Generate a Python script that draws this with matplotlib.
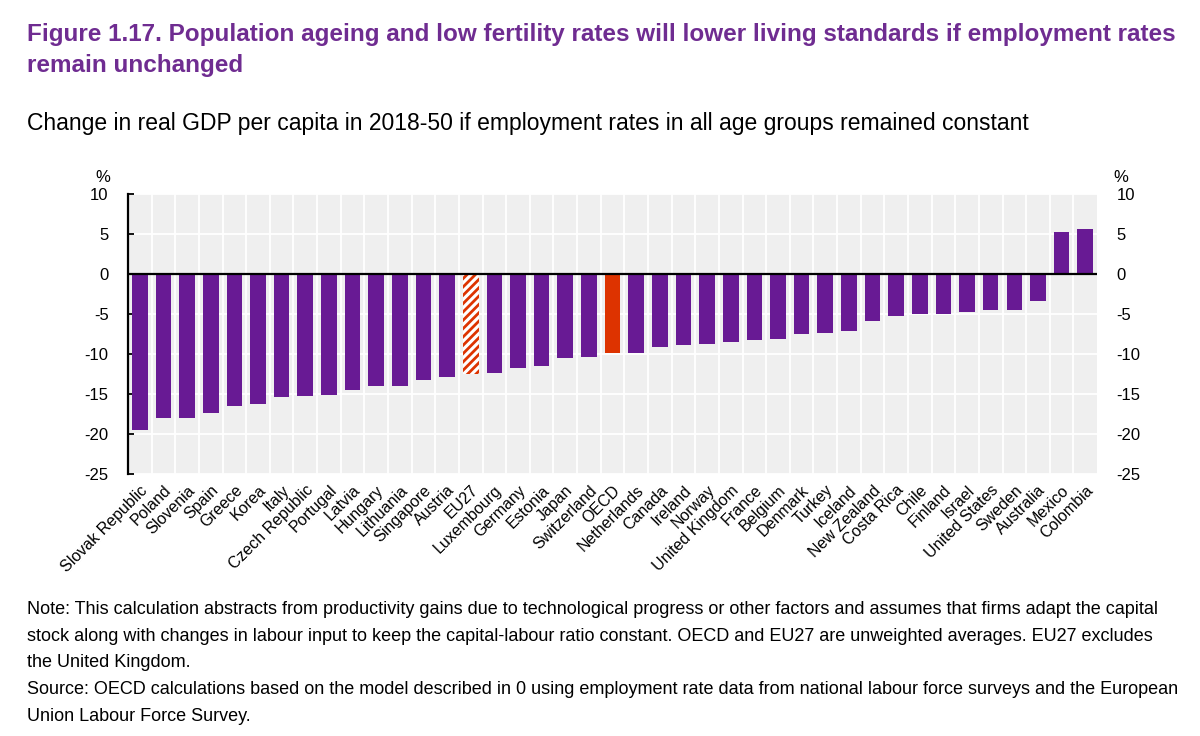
import matplotlib
matplotlib.use("Agg")
import matplotlib.pyplot as plt
import numpy as np

countries = ["Slovak Republic", "Poland", "Slovenia", "Spain", "Greece", "Korea", "Italy",
             "Czech Republic", "Portugal", "Latvia", "Hungary", "Lithuania", "Singapore",
             "Austria", "EU27", "Luxembourg", "Germany", "Estonia", "Japan", "Switzerland",
             "OECD", "Netherlands", "Canada", "Ireland", "Norway", "United Kingdom", "France",
             "Belgium", "Denmark", "Turkey", "Iceland", "New Zealand", "Costa Rica", "Chile",
             "Finland", "Israel", "United States", "Sweden", "Australia", "Mexico", "Colombia"]
values = [-19.5, -18.0, -17.95, -17.3, -16.5, -16.2, -15.4,
          -15.25, -15.1, -14.5, -14.0, -14.0, -13.25,
          -12.9, -12.5, -12.4, -11.7, -11.5, -10.5, -10.4,
          -9.9, -9.8, -9.1, -8.8, -8.7, -8.5, -8.2,
          -8.1, -7.5, -7.3, -7.1, -5.8, -5.25, -5.0,
          -5.0, -4.7, -4.5, -4.5, -3.3, 5.3, 5.7]
yticks = [10, 5, 0, -5, -10, -15, -20, -25]

title = ("Figure 1.17. Population ageing and low fertility rates will lower living standards if employment rates\n"
         "remain unchanged")
subtitle = "Change in real GDP per capita in 2018-50 if employment rates in all age groups remained constant"
note = ("Note: This calculation abstracts from productivity gains due to technological progress or other factors and assumes that firms adapt the capital\n"
        "stock along with changes in labour input to keep the capital-labour ratio constant. OECD and EU27 are unweighted averages. EU27 excludes\n"
        "the United Kingdom.\n"
        "Source: OECD calculations based on the model described in 0 using employment rate data from national labour force surveys and the European\n"
        "Union Labour Force Survey.")

FONT = ["Liberation Sans Narrow", "Liberation Sans", "DejaVu Sans"]
plt.rcParams["font.family"] = FONT
plt.rcParams["hatch.linewidth"] = 2.0

PURPLE = "#681A94"
RED = "#DD3300"
TITLE_C = "#6F2C91"

fig = plt.figure(figsize=(12, 7.36), dpi=100)
ax = fig.add_axes([0.1067, 0.3556, 0.9142 - 0.1067, 0.736 - 0.3556])

x = np.arange(len(countries))
ax.set_facecolor("#EFEFEF")
ax.set_xlim(-0.5, len(countries) - 0.5)
ax.set_ylim(-25, 10)

for i in range(len(countries) - 1):
    ax.axvline(i + 0.5, color="white", lw=1.3, zorder=1)
for t in yticks:
    ax.axhline(t, color="white", lw=1.3, zorder=1)

for i, (c, v) in enumerate(zip(countries, values)):
    if c == "OECD":
        ax.bar(i, v, width=0.66, color=RED, zorder=3, lw=0)
    elif c == "EU27":
        ax.bar(i, v, width=0.66, facecolor="white", edgecolor=RED, hatch="////", lw=0, zorder=3)
    else:
        ax.bar(i, v, width=0.66, color=PURPLE, zorder=3, lw=0)

ax.axhline(0, color="black", lw=1.6, zorder=4)

for s in ["top", "right", "bottom"]:
    ax.spines[s].set_visible(False)
ax.spines["left"].set_color("black")
ax.spines["left"].set_linewidth(1.6)

ax.set_yticks(yticks)
ax.set_yticklabels([str(t) for t in yticks])
ax.tick_params(axis="y", direction="in", length=4, width=1.3, pad=14, labelsize=12,
               labelright=True, right=False)

ax.set_xticks(x)
ax.set_xticklabels(countries, rotation=45, ha="right", rotation_mode="anchor", fontsize=11.5)
ax.tick_params(axis="x", length=0, pad=6)

fig.text(0.0855, 0.759, "%", ha="center", va="center", fontsize=12)
fig.text(0.934, 0.759, "%", ha="center", va="center", fontsize=12)

fig.text(0.0225, 0.932, title, ha="left", va="center", fontsize=17.5, fontweight="bold",
         color=TITLE_C, linespacing=1.45)
fig.text(0.0225, 0.832, subtitle, ha="left", va="center", fontsize=16.5)
fig.text(0.0225, 0.0995, note, ha="left", va="center", fontsize=13.0, linespacing=1.74)

fig.savefig("out.png", dpi=100, facecolor="white")
